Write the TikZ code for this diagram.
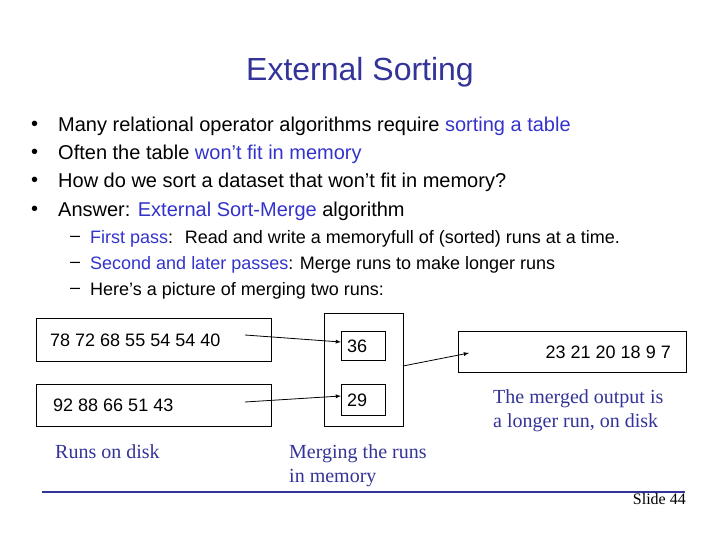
\documentclass[tikz,border=0pt]{standalone}
\usepackage{fontspec}
\setmainfont{Liberation Sans}
\newfontfamily\serifx{Liberation Serif}
\definecolor{navy}{HTML}{333399}
\definecolor{hl}{HTML}{3333CC}
\begin{document}
\begin{tikzpicture}[x=1pt,y=-1pt,
  captext/.style={anchor=north west,align=left,font=\serifx\fontsize{20}{24}\selectfont,text=navy,inner sep=0},
  bul/.style={anchor=west,font=\fontsize{20}{22}\selectfont,inner sep=0},
  sub/.style={anchor=west,font=\fontsize{18}{18}\selectfont,inner sep=0},
  num/.style={anchor=west,font=\fontsize{18}{20}\selectfont,inner sep=0},
  arr/.style={thick,-latex}]
\useasboundingbox (0,0) rectangle (720,540);
\node[font=\fontsize{32}{36}\selectfont,text=navy] (title) at (360,72) {External Sorting};
\foreach \yy/\nm in {126/b1,154/b2,182/b3,211/b4}{\node[bul] (\nm d) at (31,\yy) {\textbullet};}
\node[bul] (b1) at (58,126) {Many relational operator algorithms require \textcolor{hl}{sorting a table}};
\node[bul] (b2) at (58,154) {Often the table \textcolor{hl}{won't fit in memory}};
\node[bul] (b3) at (58,182) {How do we sort a dataset that won't fit in memory?};
\node[bul] (b4) at (58,211) {Answer: \textcolor{hl}{External Sort-Merge} algorithm};
\foreach \yy/\nm in {239/s1,265/s2,291/s3}{\node[sub] (\nm d) at (70,\yy) {--};}
\node[sub] (s1) at (90,239) {\textcolor{hl}{First pass}:~ Read and write a memoryfull of (sorted) runs at a time.};
\node[sub] (s2) at (90,265) {\textcolor{hl}{Second and later passes}: Merge runs to make longer runs};
\node[sub] (s3) at (90,291) {Here's a picture of merging two runs:};
% boxes
\draw[thick] (36,318) rectangle (271,361);
\draw[thick] (36,384) rectangle (271,426);
\draw[thick] (324,313) rectangle (403,426);
\draw[thick] (341,331) rectangle (385,360);
\draw[thick] (341,384) rectangle (385,415);
\draw[thick] (458,331) rectangle (686,372);
\node[num] (r1) at (50,340) {78 72 68 55 54 54 40};
\node[num] (r2) at (53,405) {92 88 66 51 43};
\node[num] (m1) at (347,346) {36};
\node[num] (m2) at (347,400) {29};
\node[num,anchor=east] (out) at (671,352) {23 21 20 18 9 7};
\coordinate (a1) at (245,335); \coordinate (a1e) at (341,342);
\coordinate (a2) at (245,402); \coordinate (a2e) at (341,396);
\coordinate (a3) at (403,366); \coordinate (a3e) at (469,353);
\draw[arr] (a1) -- (a1e);
\draw[arr] (a2) -- (a2e);
\draw[arr] (a3) -- (a3e);
\node[captext] (c1) at (493,389) {The merged output is\\a longer run, on disk};
\node[captext] (c2) at (55,444) {Runs on disk};
\node[captext] (c3) at (289,444) {Merging the runs\\in memory};
\draw[navy,line width=1.5pt] (42,492) coordinate (l1) -- (685,492) coordinate (l2);
\node[anchor=north east,inner sep=0,font=\serifx\fontsize{16}{16}\selectfont] (slide) at (686,493) {Slide 44};
\end{tikzpicture}
\end{document}
